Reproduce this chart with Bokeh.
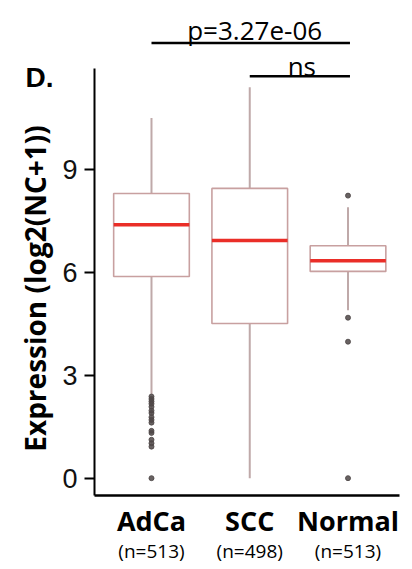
import math
from bokeh.plotting import figure
from bokeh.layouts import row
from bokeh.models import Range1d, FixedTicker, ColumnDataSource, LinearAxis
from bokeh.embed import file_html
from bokeh.resources import INLINE
from bokeh.core.properties import value

# ---------------- data ----------------
categories = ["AdCa", "SCC", "Normal"]
sample_sizes = ["(n=513)", "(n=498)", "(n=513)"]
q1 = [5.88, 4.51, 6.03]
medians = [7.39, 6.93, 6.34]
q3 = [8.30, 8.45, 6.78]
whisker_low = [2.45, 0.00, 4.90]
whisker_high = [10.50, 11.40, 7.90]
adca_outliers = [2.38, 2.31, 2.24, 2.17, 2.08, 1.97, 1.90, 1.78, 1.70, 1.62,
                 1.38, 1.32, 1.12, 1.02, 0.92, 0.00]
scc_outliers = []
normal_outliers = [8.24, 4.68, 3.98, 0.00]
y_ticks = [0, 3, 6, 9]
comparisons = [("AdCa", "Normal", "p=3.27e-06"), ("SCC", "Normal", "ns")]
y_label = "Expression (log2(NC+1))"
panel_letter = "D."

H = 569

# ---------------- left strip: panel letter + axis title ----------------
left = figure(width=56, height=H, output_backend="svg", toolbar_location=None,
              x_range=Range1d(0, 56), y_range=Range1d(H, 0),
              x_axis_type=None, y_axis_type=None,
              min_border_left=0, min_border_right=0, min_border_top=0, min_border_bottom=0)
left.outline_line_color = None
left.xgrid.visible = False
left.ygrid.visible = False
left.text(x=[25], y=[89], text=[panel_letter], text_align="left", text_baseline="alphabetic",
          text_font=value("Liberation Sans"), text_font_style="bold",
          text_font_size=value("28px"), text_color="black")
left.text(x=[34], y=[331], text=[y_label], angle=math.pi / 2, text_align="center",
          text_baseline="middle", text_font=value("Open Sans"), text_font_style="bold",
          text_font_size=value("28px"), text_color="black")

# ---------------- main plot ----------------
pos = {c: i + 1 for i, c in enumerate(categories)}
xs = [pos[c] for c in categories]
half_w = 0.385

p = figure(width=348, height=H, output_backend="svg", toolbar_location=None,
           x_range=Range1d(0.42, 3.524), y_range=Range1d(-0.505, 13.93),
           min_border_left=38, min_border_right=5, min_border_top=0,
           min_border_bottom=74)
p.outline_line_color = None
p.xgrid.visible = False
p.ygrid.visible = False
p.background_fill_color = "white"
p.border_fill_color = "white"

# whiskers
p.segment(x0=xs, y0=whisker_low, x1=xs, y1=q1, line_color="#bfa9a9", line_width=2)
p.segment(x0=xs, y0=q3, x1=xs, y1=whisker_high, line_color="#bfa9a9", line_width=2)

# boxes
box_src = ColumnDataSource(dict(left=[x - half_w for x in xs], right=[x + half_w for x in xs],
                                top=q3, bottom=q1))
p.quad(left="left", right="right", top="top", bottom="bottom", source=box_src,
       fill_color="white", fill_alpha=0.0, line_color="#c8a0a0", line_width=1.6)

# medians
p.segment(x0=[x - half_w for x in xs], y0=medians, x1=[x + half_w for x in xs], y1=medians,
          line_color="#ea2e28", line_width=3.5)

# outliers
ox, oy = [], []
for c, vals in zip(categories, [adca_outliers, scc_outliers, normal_outliers]):
    ox += [pos[c]] * len(vals)
    oy += vals
p.scatter(ox, oy, size=5, fill_color="#4d4646", line_color="#4d4646", alpha=0.85)

# significance brackets
bracket_y = [12.69, 11.72]
text_y = [13.08, 12.03]
text_dx = [0.04, 0.02]
for (a, b, txt), by, ty, dx in zip(comparisons, bracket_y, text_y, text_dx):
    x0, x1 = pos[a], pos[b] + 0.02
    p.segment(x0=[x0], y0=[by], x1=[x1], y1=[by], line_color="black", line_width=2.5)
    p.text(x=[(x0 + x1) / 2 + dx], y=[ty], text=[txt], text_align="center",
           text_baseline="alphabetic", text_font=value("Open Sans"),
           text_font_size=value("26px"), text_color="black")

# y axis
ya = p.yaxis[0]
ya.ticker = FixedTicker(ticks=y_ticks)
ya.bounds = (-0.505, 11.94)
ya.minor_tick_line_color = None
ya.major_tick_out = 10
ya.major_tick_in = 0
ya.major_tick_line_width = 2
ya.axis_line_width = 2
ya.axis_line_color = "black"
ya.major_tick_line_color = "black"
ya.major_label_text_font = "Liberation Sans"
ya.major_label_text_font_size = "27px"
ya.major_label_text_color = "#111111"
ya.major_label_standoff = 7

# x axis (category names)
xa = p.xaxis[0]
xa.ticker = FixedTicker(ticks=xs)
xa.major_label_overrides = {pos[c]: c for c in categories}
xa.minor_tick_line_color = None
xa.major_tick_line_color = None
xa.major_tick_out = 0
xa.major_tick_in = 0
xa.axis_line_width = 2.5
xa.axis_line_color = "black"
xa.major_label_text_font = "Open Sans"
xa.major_label_text_font_style = "bold"
xa.major_label_text_font_size = "27px"
xa.major_label_text_color = "black"
xa.major_label_standoff = 6

# second x axis (sample sizes)
xa2 = LinearAxis(ticker=FixedTicker(ticks=xs),
                 major_label_overrides={pos[c]: n for c, n in zip(categories, sample_sizes)},
                 axis_line_color=None, major_tick_line_color=None,
                 minor_tick_line_color=None, major_tick_out=0, major_tick_in=0,
                 major_label_standoff=-4, major_label_text_font="Open Sans",
                 major_label_text_font_size="19px", major_label_text_color="black")
p.add_layout(xa2, "below")

open("out.html", "w").write(file_html(row(left, p), INLINE))
